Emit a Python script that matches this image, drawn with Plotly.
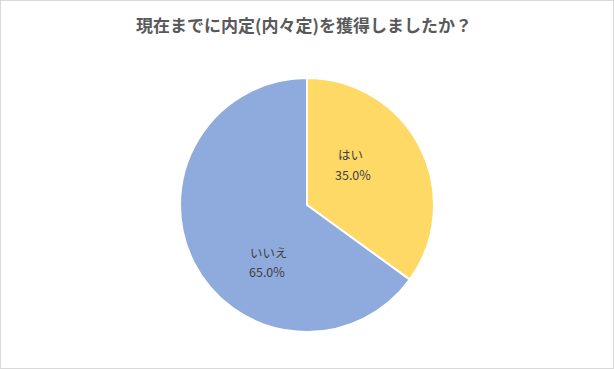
import plotly.graph_objects as go

labels = ["はい", "いいえ"]
values = [35.0, 65.0]
colors = ["#FFD966", "#8FAADC"]
title_text = "現在までに内定(内々定)を獲得しましたか？"

W, H = 614, 369
cx, cy, r = 307, 205, 127

# label placement (pixel centers of the two text lines for each slice)
label_pos = [((350, 154), (353, 174)), ((269, 252), (267, 271))]

fig = go.Figure(go.Pie(
    labels=labels,
    values=values,
    sort=False,
    direction="clockwise",
    rotation=0,
    marker=dict(colors=colors, line=dict(color="#FFFFFF", width=2)),
    textinfo="none",
    domain=dict(x=[(cx - r) / W, (cx + r) / W], y=[1 - (cy + r) / H, 1 - (cy - r) / H]),
    showlegend=False,
    hoverinfo="skip",
))

total = sum(values)
annotations = []
for lab, val, (p1, p2) in zip(labels, values, label_pos):
    for txt, (px, py) in ((lab, p1), (f"{val / total * 100:.1f}%", p2)):
        annotations.append(dict(
            text=txt, x=px / W, y=1 - py / H, xref="paper", yref="paper",
            xanchor="center", yanchor="middle", showarrow=False,
            font=dict(family="Noto Sans CJK JP", size=12.5, color="#404040"),
        ))

fig.update_layout(
    width=W, height=H,
    margin=dict(l=0, r=0, t=0, b=0),
    paper_bgcolor="#FFFFFF",
    plot_bgcolor="#FFFFFF",
    title=dict(text="<b>" + title_text + "</b>", x=304 / W, xanchor="center", y=1 - 26 / H, yanchor="middle",
               font=dict(family="Noto Sans CJK JP", size=17, color="#595959")),
    annotations=annotations,
    shapes=[dict(type="rect", xref="paper", yref="paper", x0=0, y0=0, x1=1, y1=1,
                 line=dict(color="#D9D9D9", width=2))],
)

fig.write_html("out.html", config={"displayModeBar": False},
               post_script="document.body.style.margin='0';")
